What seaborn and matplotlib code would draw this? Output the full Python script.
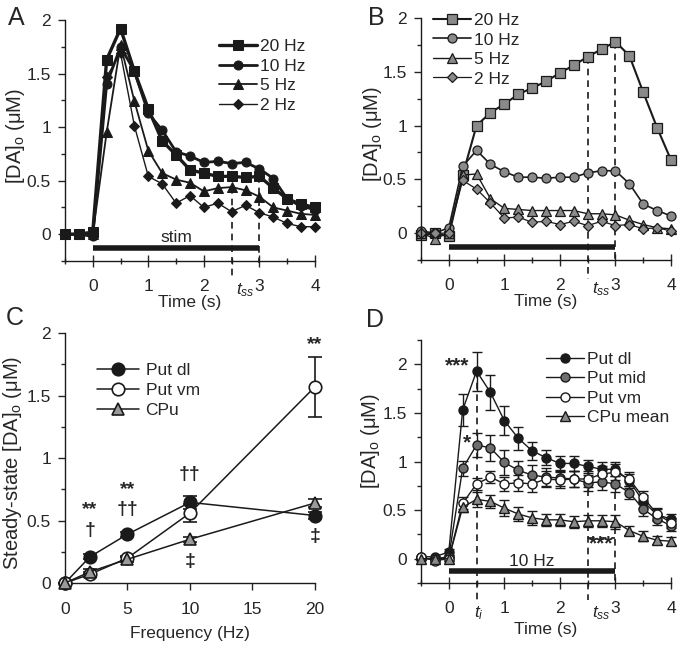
import matplotlib
matplotlib.use("Agg")
import matplotlib.pyplot as plt
import seaborn as sns
from matplotlib.ticker import MultipleLocator

sns.set_theme(style="ticks")
plt.rcParams['font.family'] = ['Liberation Sans', 'DejaVu Sans']
plt.rcParams['mathtext.fontset'] = 'custom'
plt.rcParams['mathtext.rm'] = 'Liberation Sans'
plt.rcParams['mathtext.it'] = 'Liberation Sans:italic'
plt.rcParams['mathtext.bf'] = 'Liberation Sans:bold'

# ---------------- data ----------------
time_s = [-0.5, -0.25, 0, 0.25, 0.5, 0.75, 1.0, 1.25, 1.5, 1.75, 2.0,
          2.25, 2.5, 2.75, 3.0, 3.25, 3.5, 3.75, 4.0]

# Panel A
a_20hz = [0, 0, 0.02, 1.63, 1.92, 1.52, 1.17, 0.87, 0.74, 0.60, 0.57, 0.54, 0.54, 0.53, 0.54, 0.43, 0.33, 0.28, 0.25]
a_10hz = [0, 0, -0.02, 1.40, 1.75, 1.52, 1.13, 0.97, 0.77, 0.73, 0.67, 0.68, 0.66, 0.67, 0.61, 0.52, 0.33, 0.26, 0.23]
a_5hz = [0, 0, 0, 0.95, 1.77, 1.24, 0.78, 0.57, 0.51, 0.48, 0.40, 0.43, 0.44, 0.41, 0.35, 0.25, 0.22, 0.19, 0.18]
a_2hz = [0, 0, 0, 1.47, 1.69, 1.01, 0.54, 0.47, 0.29, 0.36, 0.25, 0.29, 0.21, 0.27, 0.20, 0.16, 0.10, 0.07, 0.07]

# Panel B
b_20hz = [-0.02, 0, -0.03, 0.54, 1.00, 1.12, 1.20, 1.29, 1.35, 1.41, 1.49, 1.56, 1.64, 1.71, 1.78, 1.65, 1.31, 0.98, 0.68]
b_10hz = [0.02, 0, 0.05, 0.62, 0.77, 0.64, 0.57, 0.52, 0.52, 0.51, 0.52, 0.52, 0.56, 0.58, 0.58, 0.46, 0.27, 0.21, 0.16]
b_5hz = [0, -0.05, 0, 0.54, 0.55, 0.32, 0.23, 0.22, 0.21, 0.21, 0.21, 0.21, 0.18, 0.18, 0.17, 0.12, 0.08, 0.05, 0.04]
b_2hz = [0, 0, 0, 0.49, 0.41, 0.28, 0.14, 0.15, 0.10, 0.11, 0.08, 0.11, 0.07, 0.11, 0.07, 0.08, 0.04, 0.05, 0.02]

# Panel C
freq_hz = [0, 2, 5, 10, 20]
c_put_dl = [0, 0.21, 0.39, 0.645, 0.54]
c_put_dl_err = [0, 0.02, 0.02, 0.05, 0.03]
c_put_vm = [0, 0.07, 0.20, 0.56, 1.57]
c_put_vm_err = [0, 0.02, 0.02, 0.07, 0.24]
c_cpu = [0, 0.09, 0.19, 0.35, 0.64]
c_cpu_err = [0, 0.02, 0.02, 0.02, 0.03]

# Panel D
d_put_dl = [0.02, 0.02, 0.07, 1.53, 1.93, 1.71, 1.42, 1.24, 1.11, 1.04, 0.98, 0.98, 0.95, 0.92, 0.92, 0.80, 0.59, 0.45, 0.41]
d_put_dl_err = [0.01, 0.01, 0.03, 0.16, 0.20, 0.18, 0.15, 0.12, 0.09, 0.08, 0.08, 0.08, 0.07, 0.07, 0.07, 0.07, 0.07, 0.06, 0.05]
d_put_mid = [0, 0, 0.02, 0.93, 1.17, 1.14, 0.99, 0.91, 0.86, 0.84, 0.83, 0.82, 0.78, 0.79, 0.77, 0.68, 0.51, 0.41, 0.34]
d_put_mid_err = [0.01, 0.01, 0.02, 0.08, 0.12, 0.13, 0.13, 0.10, 0.10, 0.09, 0.08, 0.08, 0.08, 0.08, 0.08, 0.07, 0.07, 0.06, 0.05]
d_put_vm = [0.02, -0.02, 0, 0.57, 0.77, 0.84, 0.77, 0.78, 0.77, 0.82, 0.81, 0.82, 0.82, 0.87, 0.89, 0.82, 0.63, 0.46, 0.37]
d_put_vm_err = [0.01, 0.01, 0.02, 0.06, 0.06, 0.06, 0.07, 0.08, 0.08, 0.08, 0.08, 0.08, 0.08, 0.08, 0.08, 0.07, 0.07, 0.06, 0.05]
d_cpu = [0, 0, 0, 0.53, 0.61, 0.59, 0.52, 0.46, 0.42, 0.40, 0.40, 0.38, 0.39, 0.39, 0.38, 0.29, 0.23, 0.19, 0.18]
d_cpu_err = [0.01, 0.01, 0.02, 0.05, 0.08, 0.07, 0.08, 0.07, 0.07, 0.06, 0.06, 0.06, 0.06, 0.06, 0.07, 0.05, 0.05, 0.04, 0.04]

FS = 12.5
YFS = 14.5
fig = plt.figure(figsize=(6.84, 6.46), dpi=100)
axA = fig.add_axes([0.0950, 0.5960, 0.3655, 0.3731])
axB = fig.add_axes([0.6155, 0.5975, 0.3655, 0.3746])
axC = fig.add_axes([0.0950, 0.0975, 0.3655, 0.3870])
axD = fig.add_axes([0.6155, 0.0975, 0.3655, 0.3762])


def style_time_axis(ax, ymin, ymax):
    ax.set_xlim(-0.5, 4)
    ax.set_ylim(ymin, ymax)
    sns.despine(ax=ax)
    ax.xaxis.set_major_locator(MultipleLocator(1))
    ax.xaxis.set_minor_locator(MultipleLocator(0.5))
    ax.yaxis.set_major_locator(MultipleLocator(0.5))
    ax.yaxis.set_minor_locator(MultipleLocator(0.25))
    ax.tick_params(axis='x', which='major', direction='inout', length=8, width=1, pad=9, labelsize=FS)
    ax.tick_params(axis='x', which='minor', direction='inout', length=5, width=1)
    ax.tick_params(axis='y', which='major', direction='out', length=5, width=1, pad=5, labelsize=FS)
    ax.tick_params(axis='y', which='minor', direction='out', length=3, width=1)
    ax.set_xticks([0, 1, 2, 3, 4])
    ax.set_xticklabels(['0', '1', '2', '3', '4'])
    ax.set_yticks([0, 0.5, 1, 1.5, 2])
    ax.set_yticklabels(['0', '0.5', '1', '1.5', '2'])
    for s in ax.spines.values():
        s.set_linewidth(1)
        s.set_color('k')


def dashed(ax, x0, x1, y0, y1):
    ax.plot([x0, x1], [y0, y1], color='k', ls=(0, (4, 3)), lw=1.2, clip_on=False, zorder=1)


# ---------------- Panel A ----------------
specA = [(a_20hz, 's', '20 Hz', 2.4, 6.5), (a_10hz, 'o', '10 Hz', 2.0, 6.5),
         (a_5hz, '^', '5 Hz', 1.3, 6.5), (a_2hz, 'D', '2 Hz', 1.0, 5.0)]
for vals, mk, lab, lw, ms in specA:
    sns.lineplot(x=time_s, y=vals, ax=axA, marker=mk, color='k', lw=lw, markersize=ms,
                 markeredgecolor='k', markerfacecolor='k', label=lab, clip_on=False, sort=False)
style_time_axis(axA, -0.25, 2)
axA.plot([0, 3], [-0.13, -0.13], color='k', lw=4, solid_capstyle='butt')
axA.text(1.5, -0.03, 'stim', ha='center', va='center', fontsize=FS)
dashed(axA, 2.5, 2.5, 0.44, -0.43)
dashed(axA, 3.0, 3.0, 0.54, -0.27)
axA.text(2.58, -0.52, r'$t_{ss}$', ha='left', va='center', fontsize=FS, clip_on=False)
axA.set_xlabel('Time (s)', fontsize=FS, labelpad=1)
axA.set_ylabel(r'[DA]$_\mathrm{o}$ (μM)', fontsize=YFS)
axA.yaxis.set_label_coords(-0.15, 0.52)
axA.legend(loc='upper right', bbox_to_anchor=(0.99, 0.95), frameon=False, fontsize=FS,
           handlelength=2.2, handletextpad=0.15, labelspacing=0.25, borderaxespad=0)

# ---------------- Panel B ----------------
specB = [(b_20hz, 's', '20 Hz', 1.5, 6.5), (b_10hz, 'o', '10 Hz', 1.2, 6.5),
         (b_5hz, '^', '5 Hz', 1.0, 6.5), (b_2hz, 'D', '2 Hz', 0.9, 5.0)]
for vals, mk, lab, lw, ms in specB:
    sns.lineplot(x=time_s, y=vals, ax=axB, marker=mk, color='k', lw=lw, markersize=ms,
                 markeredgecolor='k', markerfacecolor='#8a8a8a', markeredgewidth=0.9,
                 label=lab, clip_on=False, sort=False)
style_time_axis(axB, -0.25, 2)
axB.plot([0, 3], [-0.13, -0.13], color='k', lw=4, solid_capstyle='butt')
dashed(axB, 2.5, 2.5, 1.64, -0.43)
dashed(axB, 3.0, 3.0, 1.78, -0.27)
axB.text(2.58, -0.52, r'$t_{ss}$', ha='left', va='center', fontsize=FS, clip_on=False)
axB.set_xlabel('Time (s)', fontsize=FS, labelpad=1)
axB.set_ylabel(r'[DA]$_\mathrm{o}$ (μM)', fontsize=YFS)
axB.yaxis.set_label_coords(-0.15, 0.52)
axB.legend(loc='upper left', bbox_to_anchor=(0.02, 1.05), frameon=False, fontsize=FS,
           handlelength=2.2, handletextpad=0.15, labelspacing=0.25, borderaxespad=0)

# ---------------- Panel C ----------------
specC = [(c_put_dl, c_put_dl_err, 'o', 'k', 'Put dl'),
         (c_put_vm, c_put_vm_err, 'o', 'white', 'Put vm'),
         (c_cpu, c_cpu_err, '^', '#9a9a9a', 'CPu')]
for vals, err, mk, fc, lab in specC:
    axC.errorbar(freq_hz, vals, yerr=err, fmt='none', ecolor='k', elinewidth=1.2,
                 capsize=5, capthick=1.2, clip_on=False, zorder=2)
    sns.lineplot(x=freq_hz, y=vals, ax=axC, marker=mk, color='k', lw=1.1, markersize=9,
                 markeredgecolor='k', markerfacecolor=fc, markeredgewidth=1.2,
                 label=lab, clip_on=False, sort=False, zorder=3)
axC.set_xlim(0, 20)
axC.set_ylim(0, 2)
sns.despine(ax=axC)
axC.set_xticks([0, 5, 10, 15, 20])
axC.set_yticks([0, 0.5, 1, 1.5, 2])
axC.set_yticklabels(['0', '0.5', '1', '1.5', '2'])
axC.yaxis.set_minor_locator(MultipleLocator(0.25))
axC.tick_params(axis='x', which='major', direction='out', length=5, width=1, pad=9, labelsize=FS)
axC.tick_params(axis='y', which='major', direction='out', length=5, width=1, pad=5, labelsize=FS)
axC.tick_params(axis='y', which='minor', direction='out', length=3, width=1)
for s in axC.spines.values():
    s.set_linewidth(1)
    s.set_color('k')
axC.set_xlabel('Frequency (Hz)', fontsize=FS, labelpad=6)
axC.set_ylabel(r'Steady-state [DA]$_\mathrm{o}$ (μM)', fontsize=YFS)
axC.yaxis.set_label_coords(-0.165, 0.48)
axC.legend(loc='upper left', bbox_to_anchor=(0.10, 0.91), frameon=False, fontsize=FS,
           handlelength=2.4, handletextpad=0.4, labelspacing=0.3, borderaxespad=0)
annC = [(2, 0.59, '**'), (2, 0.42, '†'), (5, 0.75, '**'), (5, 0.59, '††'),
        (10, 0.87, '††'), (10, 0.17, '‡'), (20, 1.91, '**'), (20, 0.37, '‡')]
for x, y, s in annC:
    axC.text(x, y, s, ha='center', va='center', fontsize=14, fontweight='bold', clip_on=False)

# ---------------- Panel D ----------------
specD = [(d_put_dl, d_put_dl_err, 'o', 'k', 'Put dl'),
         (d_put_mid, d_put_mid_err, 'o', '#6e6e6e', 'Put mid'),
         (d_put_vm, d_put_vm_err, 'o', 'white', 'Put vm'),
         (d_cpu, d_cpu_err, '^', '#8a8a8a', 'CPu mean')]
for vals, err, mk, fc, lab in specD:
    axD.errorbar(time_s, vals, yerr=err, fmt='none', ecolor='k', elinewidth=1,
                 capsize=3.5, capthick=1, clip_on=False, zorder=2)
    sns.lineplot(x=time_s, y=vals, ax=axD, marker=mk, color='k', lw=1.0, markersize=6.5,
                 markeredgecolor='k', markerfacecolor=fc, markeredgewidth=1.0,
                 label=lab, clip_on=False, sort=False, zorder=3)
style_time_axis(axD, -0.25, 2.25)
axD.plot([0, 3], [-0.13, -0.13], color='k', lw=4, solid_capstyle='butt')
axD.text(1.5, -0.03, '10 Hz', ha='center', va='center', fontsize=FS)
dashed(axD, 0.5, 0.5, 1.93, -0.42)
dashed(axD, 2.5, 2.5, 0.95, -0.42)
dashed(axD, 3.0, 3.0, 0.92, -0.27)
dashed(axD, 2.5, 3.0, 0.21, 0.21)
axD.text(2.75, 0.15, '***', ha='center', va='center', fontsize=15, fontweight='bold')
axD.text(0.15, 1.98, '***', ha='center', va='center', fontsize=15, fontweight='bold')
axD.text(0.33, 1.19, '*', ha='center', va='center', fontsize=15, fontweight='bold')
axD.text(0.45, -0.56, r'$t_{i}$', ha='left', va='center', fontsize=FS, clip_on=False)
axD.text(2.58, -0.56, r'$t_{ss}$', ha='left', va='center', fontsize=FS, clip_on=False)
axD.set_xlabel('Time (s)', fontsize=FS, labelpad=4)
axD.set_ylabel(r'[DA]$_\mathrm{o}$ (μM)', fontsize=YFS)
axD.yaxis.set_label_coords(-0.155, 0.585)
axD.legend(loc='upper right', bbox_to_anchor=(1.02, 0.98), frameon=False, fontsize=FS,
           handlelength=2.2, handletextpad=0.15, labelspacing=0.25, borderaxespad=0)

# panel letters
fig.text(0.012, 0.972, 'A', fontsize=18, ha='left', va='center')
fig.text(0.538, 0.972, 'B', fontsize=18, ha='left', va='center')
fig.text(0.008, 0.508, 'C', fontsize=18, ha='left', va='center')
fig.text(0.535, 0.505, 'D', fontsize=18, ha='left', va='center')

fig.savefig('out.png', dpi=100)
